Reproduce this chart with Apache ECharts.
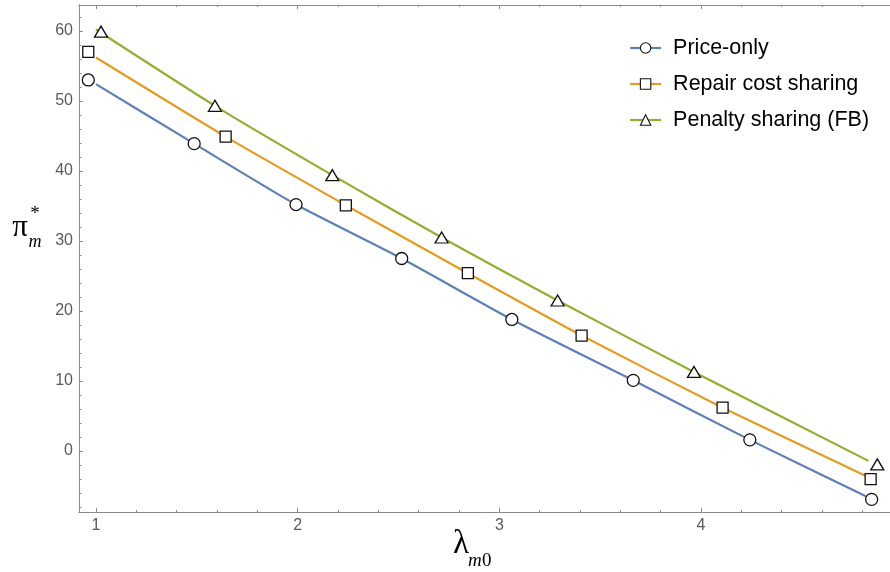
<!DOCTYPE html>
<html><head><meta charset="utf-8">
<script src="https://cdn.jsdelivr.net/npm/echarts@6/dist/echarts.min.js"></script>
<style>html,body{margin:0;padding:0;background:#fff}#c{width:890px;height:572px}</style>
</head><body><div id="c"></div>
<script>
const seriesNames = ['Price-only', 'Repair cost sharing', 'Penalty sharing (FB)'];
const seriesColors = ['#5E81B5', '#E19C24', '#8FB032'];
const markerSymbols = ['circle', 'rect', 'triangle'];

// marker positions (lambda_m0, pi_m*)
const priceMarkX = [0.962, 1.487, 1.992, 2.516, 3.062, 3.664, 4.242, 4.846];
const priceMarkY = [53.0, 43.9, 35.2, 27.5, 18.8, 10.1, 1.6, -6.9];
const repairMarkX = [0.962, 1.643, 2.239, 2.844, 3.408, 4.107, 4.841];
const repairMarkY = [57.0, 44.9, 35.1, 25.4, 16.5, 6.2, -4.0];
const penaltyMarkX = [1.025, 1.590, 2.172, 2.714, 3.289, 3.965, 4.874];
const penaltyMarkY = [59.9, 49.3, 39.4, 30.5, 21.5, 11.3, -1.9];

// curve vertices
const priceLineX = [1.0, 1.487, 1.992, 2.516, 3.062, 3.664, 4.242, 4.82];
const priceLineY = [52.4, 43.9, 35.2, 27.5, 18.8, 10.1, 1.6, -6.5];
const repairLineX = [1.0, 1.643, 2.239, 2.844, 3.408, 4.107, 4.82];
const repairLineY = [56.2, 44.9, 35.1, 25.4, 16.5, 6.2, -3.6];
const penaltyLineX = [1.0, 1.590, 2.172, 2.714, 3.289, 3.965, 4.83];
const penaltyLineY = [60.2, 49.3, 39.4, 30.5, 21.5, 11.3, -1.4];

// ticks
const xMajorTicks = [1, 2, 3, 4];
const xMinorTicks = [1.2, 1.4, 1.6, 1.8, 2.2, 2.4, 2.6, 2.8, 3.2, 3.4, 3.6, 3.8, 4.2, 4.4, 4.6, 4.8];
const yMajorTicks = [0, 10, 20, 30, 40, 50, 60];
const yMinorTicks = [-8, -6, -4, -2, 2, 4, 6, 8, 12, 14, 16, 18, 22, 24, 26, 28, 32, 34, 36, 38, 42, 44, 46, 48, 52, 54, 56, 58, 62];

const X_MIN = 0.916, X_MAX = 4.937, Y_MIN = -8.7, Y_MAX = 63.7;

const zip = (xs, ys) => xs.map((x, i) => [x, ys[i]]);
const markX = [priceMarkX, repairMarkX, penaltyMarkX];
const markY = [priceMarkY, repairMarkY, penaltyMarkY];
const lineX = [priceLineX, repairLineX, penaltyLineX];
const lineY = [priceLineY, repairLineY, penaltyLineY];
const symSizes = [12, 11, [13, 11]];

const axisGray = '#8a8a8a';
const labelGray = '#5a5a5a';

function xAx(pos, ticks, len, labels) {
  return {
    type: 'value', position: pos, min: X_MIN, max: X_MAX, gridIndex: 0,
    axisLine: { show: true, onZero: false, lineStyle: { color: axisGray, width: 1 } },
    axisTick: { show: true, inside: true, length: len, customValues: ticks, lineStyle: { color: axisGray } },
    axisLabel: labels ? { show: true, customValues: ticks, color: labelGray, fontSize: 16, fontFamily: 'Liberation Sans', margin: 6 } : { show: false },
    splitLine: { show: false }
  };
}
function yAx(pos, ticks, len, labels) {
  return {
    type: 'value', position: pos, min: Y_MIN, max: Y_MAX, gridIndex: 0,
    axisLine: { show: true, onZero: false, lineStyle: { color: axisGray, width: 1 } },
    axisTick: { show: true, inside: true, length: len, customValues: ticks, lineStyle: { color: axisGray } },
    axisLabel: labels ? { show: true, customValues: ticks, color: labelGray, fontSize: 16, fontFamily: 'Liberation Sans', margin: 6 } : { show: false },
    splitLine: { show: false }
  };
}

const series = [];
seriesNames.forEach((name, i) => {
  series.push({
    name: name, type: 'line', xAxisIndex: 0, yAxisIndex: 0,
    data: zip(lineX[i], lineY[i]),
    showSymbol: false, symbol: markerSymbols[i], symbolSize: 11,
    smooth: 0.2,
    lineStyle: { color: seriesColors[i], width: 2.2 },
    itemStyle: { color: '#fff', borderColor: '#111', borderWidth: 1.3 },
    z: 2, silent: true
  });
});
seriesNames.forEach((name, i) => {
  series.push({
    name: name + ' markers', type: 'scatter', xAxisIndex: 0, yAxisIndex: 0,
    data: zip(markX[i], markY[i]),
    symbol: markerSymbols[i], symbolSize: symSizes[i],
    itemStyle: { color: '#fff', borderColor: '#111', borderWidth: 1.3, opacity: 1 },
    z: 5, silent: true
  });
});

const chart = echarts.init(document.getElementById('c'), null, { renderer: 'canvas' });
chart.setOption({
  animation: false,
  backgroundColor: '#fff',
  grid: { left: 79, right: 0, top: 5, bottom: 60, containLabel: false },
  xAxis: [
    xAx('bottom', xMajorTicks, 4, true),
    xAx('bottom', xMinorTicks, 2, false),
    xAx('top', xMajorTicks, 4, false),
    xAx('top', xMinorTicks, 2, false)
  ],
  yAxis: [
    yAx('left', yMajorTicks, 4, true),
    yAx('left', yMinorTicks, 2.5, false)
  ],
  legend: {
    data: seriesNames,
    orient: 'vertical', left: 629, top: 37,
    itemWidth: 31, itemHeight: 13, itemGap: 14,
    padding: 0,
    itemStyle: { borderWidth: 1.1 },
    lineStyle: { width: 2.2 },
    textStyle: { fontSize: 21.5, fontFamily: 'Liberation Sans', color: '#000', padding: [0, 0, 0, 7] },
    selectedMode: false
  },
  graphic: [
    { type: 'text', x: 453, y: 544, style: { text: 'λ', font: '33px "Liberation Serif"', fill: '#000', verticalAlign: 'middle', align: 'left' } },
    { type: 'text', x: 468, y: 561, style: { text: 'm', font: 'italic 19px "Liberation Serif"', fill: '#000', verticalAlign: 'middle', align: 'left' } },
    { type: 'text', x: 482, y: 561, style: { text: '0', font: '19px "Liberation Serif"', fill: '#000', verticalAlign: 'middle', align: 'left' } },
    { type: 'text', x: 20, y: 228, style: { text: 'π', font: '31px "Liberation Serif"', fill: '#000', verticalAlign: 'middle', align: 'center' } },
    { type: 'text', x: 35, y: 214, style: { text: '*', font: '19px "Liberation Serif"', fill: '#000', verticalAlign: 'middle', align: 'center' } },
    { type: 'text', x: 35, y: 242, style: { text: 'm', font: 'italic 18px "Liberation Serif"', fill: '#000', verticalAlign: 'middle', align: 'center' } }
  ],
  series: series
});
</script>
</body></html>
